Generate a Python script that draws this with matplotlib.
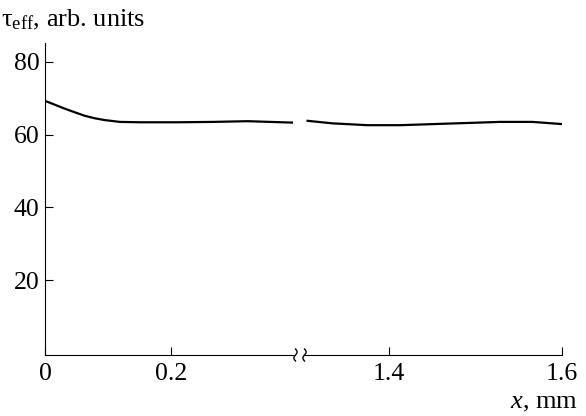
import numpy as np
import matplotlib
matplotlib.use("Agg")
import matplotlib.pyplot as plt
from matplotlib.lines import Line2D

plt.rcParams['font.family'] = ['Liberation Serif', 'DejaVu Serif']
plt.rcParams['mathtext.fontset'] = 'custom'
plt.rcParams['mathtext.rm'] = 'Liberation Serif'
plt.rcParams['mathtext.it'] = 'Liberation Serif:italic'
plt.rcParams['mathtext.default'] = 'regular'

# tau_eff vs x (two pieces of a broken x axis)
x_left = [0.0, 0.016, 0.032, 0.048, 0.063, 0.079, 0.095, 0.119, 0.151, 0.211, 0.267, 0.322, 0.376, 0.395]
tau_left = [69.3, 68.2, 67.1, 66.1, 65.2, 64.5, 64.0, 63.5, 63.4, 63.4, 63.5, 63.7, 63.4, 63.3]
x_right = [1.306, 1.335, 1.375, 1.413, 1.451, 1.490, 1.528, 1.566, 1.600]
tau_right = [63.8, 63.1, 62.6, 62.6, 62.9, 63.2, 63.5, 63.5, 62.9]

yticks = [20, 40, 60, 80]
xticks_left = [0, 0.2]
xticks_right = [1.4, 1.6]

W, H = 586, 416
fig = plt.figure(figsize=(W / 100, H / 100), dpi=100)

bottom = 1 - 355 / H
height = (355 - 43) / H
ax1 = fig.add_axes([45 / W, bottom, (293 - 45) / W, height])
ax2 = fig.add_axes([305 / W, bottom, (562 - 305) / W, height])

ax1.plot(x_left, tau_left, color='black', lw=1.6)
ax2.plot(x_right, tau_right, color='black', lw=1.6)

ax1.set_xlim(0, 0.394)
ax2.set_xlim(1.303, 1.6)
for ax in (ax1, ax2):
    ax.set_ylim(-0.6, 85.2)
    ax.spines['top'].set_visible(False)
    ax.spines['right'].set_visible(False)
    ax.patch.set_alpha(0)
    ax.tick_params(direction='in', length=6, width=0.8, labelsize=18.5, pad=6)

ax1.set_xticks(xticks_left)
ax1.set_xticklabels(['0', '0.2'])
ax1.set_yticks(yticks)
ax1.tick_params(axis='y', pad=4)
ax2.set_xticks(xticks_right)
ax2.set_xticklabels(['1.4', '1.6'])
ax2.spines['left'].set_visible(False)
ax2.set_yticks([])

# break marks on the x axis
t = np.linspace(-1, 1, 40)
for xc in (295.5, 304.5):
    xs = (xc + 1.6 * np.sin(t * np.pi)) / W
    ys = 1 - (355 - 6 * t) / H
    fig.add_artist(Line2D(xs, ys, color='black', lw=1.0, transform=fig.transFigure))

fig.text(1 / W, 1 - 26 / H, r'$\tau_{eff}$, arb. units', fontsize=19,
         ha='left', va='baseline')
fig.text(578 / W, 1 - 408 / H, r'$\mathit{x}$, mm', fontsize=19,
         ha='right', va='baseline')

fig.savefig('out.png', dpi=100)
